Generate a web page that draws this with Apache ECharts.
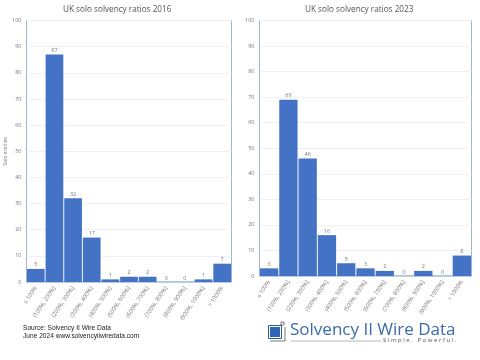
<!DOCTYPE html>
<html><head><meta charset="utf-8">
<style>html,body{margin:0;padding:0;background:#fff}#c{width:480px;height:360px}</style>
<script src="https://cdn.jsdelivr.net/npm/echarts@6/dist/echarts.min.js"></script></head>
<body><div id="c"></div>
<script>
const categories2016 = ['≤ 100%','(100%, 200%]','(200%, 300%]','(300%, 400%]','(400%, 500%]','(500%, 600%]','(600%, 700%]','(700%, 800%]','(800%, 900%]','(900%, 1000%]','> 1000%'];
const categories2023 = categories2016;
const values2016 = [5,87,32,17,1,2,2,0,0,1,7];
const values2023 = [3,69,46,16,5,3,2,0,2,0,8];
const title2016 = 'UK solo solvency ratios 2016';
const title2023 = 'UK solo solvency ratios 2023';
const yTitle = 'Solo entities';
const sourceLines = ['Source: Solvency II Wire Data','June 2024 www.solvencyiiwiredata.com'];
const BAR='#4472c4', FRAME='#9db4cc', TXT='#777';
const font='"Open Sans","Liberation Sans",sans-serif';
function xAxis(i,cats){return {type:'category',gridIndex:i,data:cats,
  axisTick:{show:false},axisLine:{lineStyle:{color:'#a9c1dc',width:1.5}},
  axisLabel:{rotate:56,fontSize:5.8,color:TXT,fontFamily:font,interval:0,margin:5}};}
function yAxis(i,name){return {type:'value',gridIndex:i,min:0,max:100,interval:10,
  name:name,nameLocation:'middle',nameGap:17,nameTextStyle:{fontSize:5,color:TXT,fontFamily:font},
  axisLine:{show:false},axisTick:{show:false},
  axisLabel:{fontSize:5.5,color:TXT,fontFamily:font,margin:5},
  splitLine:{lineStyle:{color:'#eef0f3',width:1}}};}
function bars(i,vals){return {type:'bar',xAxisIndex:i,yAxisIndex:i,data:vals,barCategoryGap:'5%',
  itemStyle:{color:BAR},label:{show:true,position:'top',distance:1,fontSize:5.5,color:TXT,fontFamily:font}};}
const chart=echarts.init(document.getElementById('c'),null,{renderer:'canvas'});
chart.setOption({animation:false,backgroundColor:'#fff',
 title:[
  {text:title2016,left:58,top:1,textStyle:{fontSize:8.2,fontWeight:'normal',color:'#555',fontFamily:font}},
  {text:title2023,left:300,top:1,textStyle:{fontSize:8.2,fontWeight:'normal',color:'#555',fontFamily:font}}],
 grid:[
  {left:26.5,top:20.5,width:205,height:261.5,show:true,borderColor:FRAME,borderWidth:1,backgroundColor:'transparent'},
  {left:259.5,top:20.5,width:212,height:255.5,show:true,borderColor:FRAME,borderWidth:1,backgroundColor:'transparent'}],
 xAxis:[xAxis(0,categories2016),xAxis(1,categories2023)],
 yAxis:[yAxis(0,yTitle),yAxis(1,'')],
 series:[bars(0,values2016),bars(1,values2023)],
 graphic:[
  {type:'text',left:23,top:325,style:{text:sourceLines[0],fontSize:6.6,fill:'#222',fontFamily:'"Liberation Sans",sans-serif'}},
  {type:'text',left:23,top:333,style:{text:sourceLines[1],fontSize:6.6,fill:'#222',fontFamily:'"Liberation Sans",sans-serif'}},
  {type:'rect',shape:{x:268.5,y:325.5,width:13,height:13},style:{fill:'#fff',stroke:'#2b5797',lineWidth:1}},
  {type:'rect',shape:{x:270,y:327,width:10,height:10},style:{fill:'#2f66b5'}},
  {type:'rect',shape:{x:281,y:322,width:3,height:3},style:{fill:'#fff',stroke:'#444',lineWidth:.7}},
  {type:'polyline',shape:{points:[[270,341],[285,341],[285,327]]},style:{stroke:'#555',lineWidth:.8,fill:'none'}},
  {type:'text',left:290,top:321.5,style:{text:'Solvency II Wire Data',fontSize:17,fill:'#3a6ca8',fontFamily:'"Open Sans",sans-serif'}},
  {type:'line',shape:{x1:291,y1:341,x2:381,y2:341},style:{stroke:'#b5b9bf',lineWidth:1}},
  {type:'text',left:383,top:337.5,style:{text:'S i m p l e .   P o w e r f u l .',fontSize:6,fill:'#555',fontFamily:font}}
 ]});
</script></body></html>
